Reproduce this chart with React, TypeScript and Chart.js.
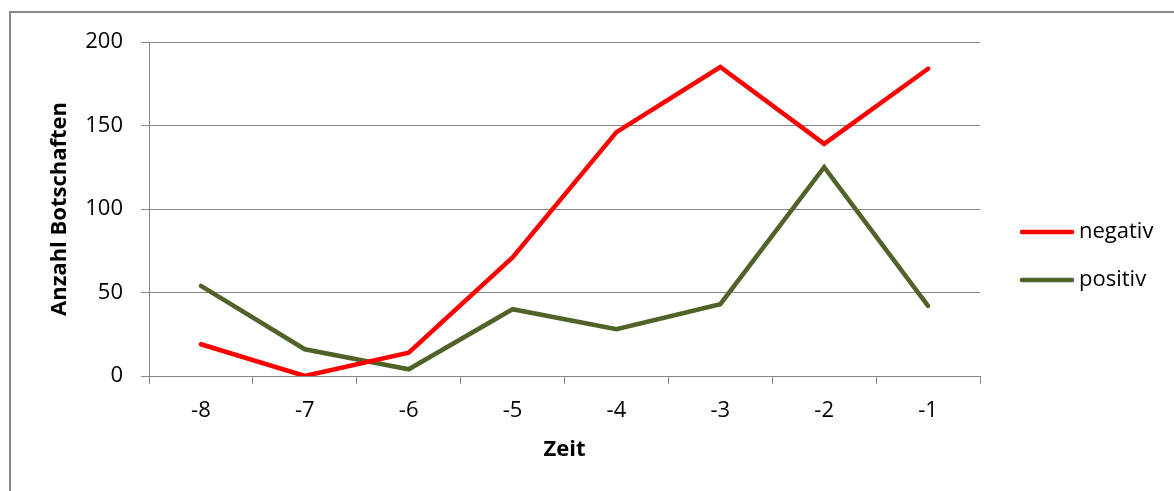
import React, { useEffect, useRef } from "react";
import { Chart, registerables } from "chart.js";

Chart.register(...registerables);

const categories = ["-8", "-7", "-6", "-5", "-4", "-3", "-2", "-1"];
const negativValues = [19, 0, 14, 71, 146, 185, 139, 184];
const positivValues = [54, 16, 4, 40, 28, 43, 125, 42];
const seriesNames = ["negativ", "positiv"];
const seriesColors = ["#FF0000", "#4F6228"];
const yTicks = [0, 50, 100, 150, 200];
const xTitle = "Zeit";
const yTitle = "Anzahl Botschaften";

const FONT = "'Open Sans', 'DejaVu Sans', sans-serif";
const GRID = "#868686";

const framePlugin = {
  id: "frame",
  beforeDraw(chart: any) {
    const ctx = chart.ctx;
    ctx.save();
    ctx.fillStyle = "#ffffff";
    ctx.fillRect(0, 0, chart.width, chart.height);
    ctx.strokeStyle = "#8a8a8a";
    ctx.lineWidth = 2;
    ctx.strokeRect(10, 12, chart.width + 20, chart.height + 20);
    ctx.restore();
  },
};

const legendPlugin = {
  id: "sideLegend",
  afterDraw(chart: any) {
    const ctx = chart.ctx;
    const area = chart.chartArea;
    const x0 = area.right + 40;
    const lineLen = 54;
    const yStart = 232;
    const step = 48;
    ctx.save();
    chart.data.datasets.forEach((ds: any, i: number) => {
      const y = yStart + i * step;
      ctx.strokeStyle = ds.borderColor;
      ctx.lineWidth = 4.5;
      ctx.lineCap = "round";
      ctx.beginPath();
      ctx.moveTo(x0 + 2, y);
      ctx.lineTo(x0 + lineLen - 2, y);
      ctx.stroke();
      ctx.fillStyle = "#000000";
      ctx.font = `22px ${FONT}`;
      ctx.textBaseline = "middle";
      ctx.textAlign = "left";
      ctx.fillText(ds.label, x0 + lineLen + 5, y);
    });
    ctx.restore();
  },
};

export default function App() {
  const canvasRef = useRef<HTMLCanvasElement | null>(null);

  useEffect(() => {
    if (!canvasRef.current) return;
    const chart = new Chart(canvasRef.current, {
      type: "line",
      data: {
        labels: categories,
        datasets: [
          {
            label: seriesNames[0],
            data: negativValues,
            borderColor: seriesColors[0],
            backgroundColor: seriesColors[0],
            borderWidth: 4.5,
            pointRadius: 0,
            tension: 0,
            borderCapStyle: "round",
            borderJoinStyle: "miter",
          },
          {
            label: seriesNames[1],
            data: positivValues,
            borderColor: seriesColors[1],
            backgroundColor: seriesColors[1],
            borderWidth: 4.5,
            pointRadius: 0,
            tension: 0,
            borderCapStyle: "round",
            borderJoinStyle: "miter",
          },
        ],
      },
      options: {
        responsive: false,
        animation: false,
        layout: { padding: { top: 42, left: 43, right: 194, bottom: 24 } },
        plugins: {
          legend: { display: false },
          tooltip: { enabled: false },
        },
        scales: {
          x: {
            offset: true,
            grid: {
              offset: true,
              drawOnChartArea: false,
              drawTicks: true,
              tickLength: 8,
              color: GRID,
              lineWidth: 1,
            },
            border: { display: true, color: GRID, width: 1 },
            ticks: {
              color: "#000000",
              font: { family: FONT, size: 22 },
              padding: 14,
              maxRotation: 0,
            },
            title: {
              display: true,
              text: xTitle,
              color: "#000000",
              font: { family: FONT, size: 22, weight: "bold" },
              padding: { top: 4, bottom: 4 },
            },
            afterFit(scale: any) {
              scale.height = 91;
            },
          },
          y: {
            min: 0,
            max: 200,
            afterBuildTicks(scale: any) {
              scale.ticks = yTicks.map((v) => ({ value: v }));
            },
            grid: {
              color: GRID,
              lineWidth: 1,
              drawTicks: true,
              tickLength: 8,
            },
            border: { display: true, color: GRID, width: 1 },
            ticks: {
              color: "#000000",
              font: { family: FONT, size: 22 },
              padding: 18,
            },
            title: {
              display: true,
              text: yTitle,
              color: "#000000",
              font: { family: FONT, size: 22, weight: "bold" },
              padding: { top: 4, bottom: 4 },
            },
            afterFit(scale: any) {
              scale.width = 106;
            },
          },
        },
      },
      plugins: [framePlugin, legendPlugin],
    } as any);
    return () => chart.destroy();
  }, []);

  return (
    <div style={{ position: "absolute", left: 0, top: 0, width: 1174, height: 491 }}>
      <canvas ref={canvasRef} width={1174} height={491} style={{ width: 1174, height: 491, display: "block" }} />
    </div>
  );
}
